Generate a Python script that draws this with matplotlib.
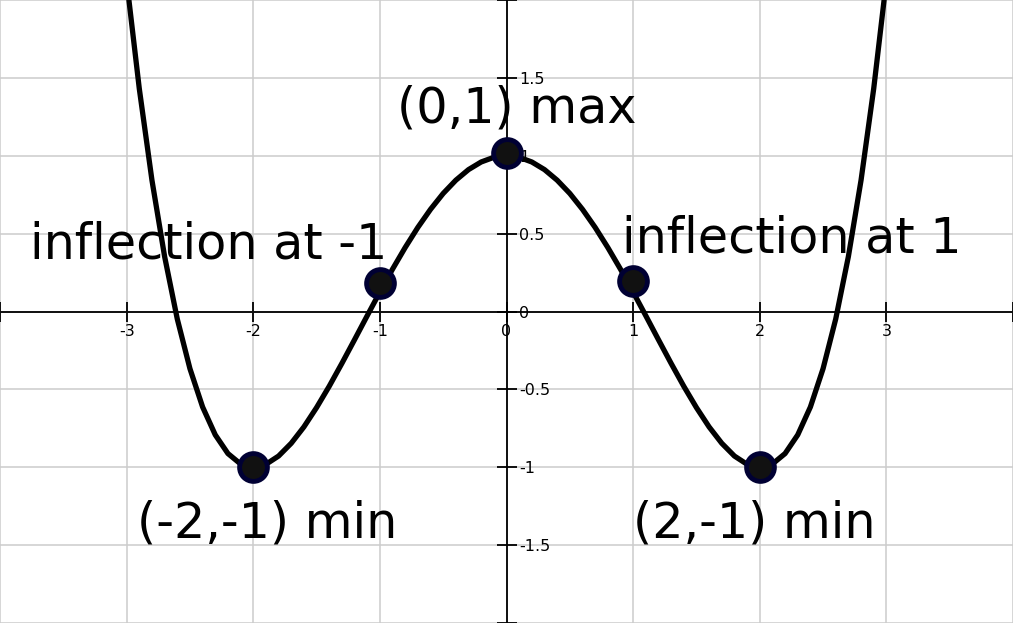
#!/usr/bin/env python3

"""quartic curve with extrema and inflection points"""

import matplotlib
matplotlib.use("Agg")
import matplotlib.pyplot as plt

# curve values, x from -3.1 to 3.1 in steps of 0.1
curve_x = [round(-3.1 + 0.1 * i, 1) for i in range(63)]
half_y = [1.0, 0.990, 0.960, 0.911, 0.843, 0.758, 0.656, 0.540, 0.411, 0.272,
          0.125, -0.027, -0.181, -0.333, -0.480, -0.617, -0.741, -0.846,
          -0.928, -0.981, -1.0, -0.979, -0.912, -0.792, -0.613, -0.367,
          -0.048, 0.353, 0.843, 1.431, 2.125, 2.934]
curve_y = half_y[::-1] + half_y[1:]

# marked points
point_x = [-2, -1, 0, 1, 2]
point_y = [-1.0, 0.18, 1.02, 0.195, -1.0]

# annotations
labels = ["inflection at -1", "(0,1) max", "inflection at 1",
          "(-2,-1) min", "(2,-1) min"]
label_x = [-2.35, 0.08, 2.25, -1.89, 1.96]
label_y = [0.34, 1.215, 0.38, -1.45, -1.45]

x_ticks = [-4, -3, -2, -1, 0, 1, 2, 3, 4]
x_tick_labels = ["", "-3", "-2", "-1", "0", "1", "2", "3", ""]
y_ticks = [-2, -1.5, -1, -0.5, 0, 0.5, 1, 1.5, 2]
y_tick_labels = ["", "-1.5", "-1", "-0.5", "0", "0.5", "1", "1.5", ""]


def main():
    fig = plt.figure(figsize=(10.13, 6.23), dpi=100)
    ax = fig.add_axes([0, 0, 1, 1])
    ax.set_xlim(-4, 4)
    ax.set_ylim(-2, 2)

    ax.grid(True, color="#cccccc", linewidth=1.1, zorder=0)
    ax.set_axisbelow(True)

    ax.spines["top"].set_visible(False)
    ax.spines["left"].set_visible(False)
    ax.spines["bottom"].set_position(("data", 0))
    ax.spines["right"].set_position(("data", 0))
    for s in ("bottom", "right"):
        ax.spines[s].set_linewidth(1.3)
        ax.spines[s].set_zorder(1)

    ax.yaxis.tick_right()
    ax.set_xticks(x_ticks, x_tick_labels)
    ax.set_yticks(y_ticks, y_tick_labels)
    ax.tick_params(axis="both", direction="inout", length=14, width=1.3,
                   labelsize=11.5, pad=2)

    ax.plot(curve_x, curve_y, color="black", linewidth=3.8, zorder=3,
            solid_joinstyle="round", solid_capstyle="round")
    ax.plot(point_x, point_y, "o", markersize=20, markerfacecolor="#111111",
            markeredgecolor="#000033", markeredgewidth=3.5, zorder=4)

    for t, x, y in zip(labels, label_x, label_y):
        ax.text(x, y, t, fontsize=35.5, ha="center", va="baseline", zorder=5)

    fig.savefig("out.png", dpi=100)


main()
